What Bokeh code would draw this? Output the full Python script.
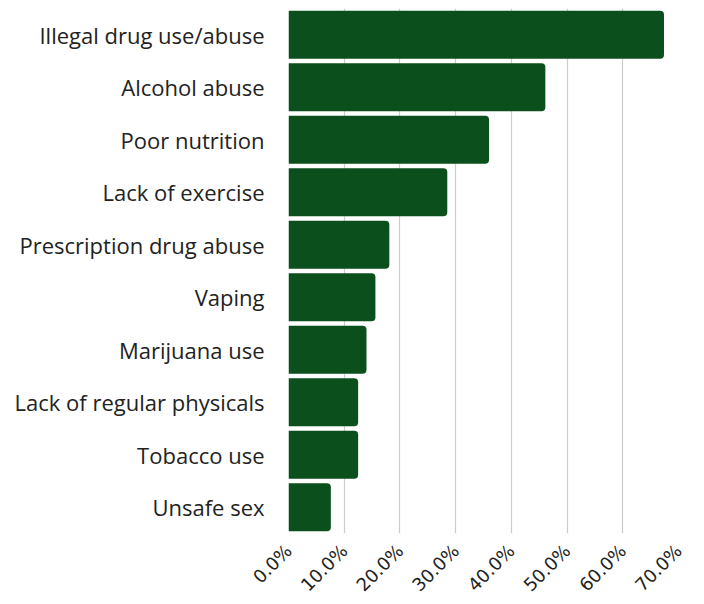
from bokeh.plotting import figure
from bokeh.models import ColumnDataSource, NumeralTickFormatter, FixedTicker
from bokeh.embed import file_html
from bokeh.resources import INLINE
import math

categories = ["Illegal drug use/abuse", "Alcohol abuse", "Poor nutrition", "Lack of exercise",
              "Prescription drug abuse", "Vaping", "Marijuana use", "Lack of regular physicals",
              "Tobacco use", "Unsafe sex"]
values = [0.674, 0.461, 0.360, 0.285, 0.181, 0.156, 0.140, 0.125, 0.125, 0.076]
ticks = [0.0, 0.1, 0.2, 0.3, 0.4, 0.5, 0.6, 0.7]

src = ColumnDataSource(dict(cat=categories, val=values))

p = figure(frame_width=390, frame_height=525, y_range=list(reversed(categories)), x_range=(0, 0.7),
           output_backend="svg", toolbar_location=None,
           min_border_left=288, min_border_right=26, min_border_top=8, min_border_bottom=60)
p.hbar(y="cat", right="val", left=0, height=0.91, source=src,
       fill_color="#0b4f1c", line_color=None, border_radius=(0, 4, 4, 0))

p.outline_line_color = None
p.ygrid.grid_line_color = None
p.xgrid.grid_line_color = "#cccccc"
p.xgrid.grid_line_width = 1.2

p.xaxis.ticker = FixedTicker(ticks=ticks)
p.xaxis.formatter = NumeralTickFormatter(format="0.0%")
p.xaxis.major_label_orientation = math.pi / 4
p.xaxis.axis_line_color = None
p.xaxis.major_tick_line_color = None
p.xaxis.minor_tick_line_color = None
p.xaxis.major_label_text_font = "DejaVu Sans"
p.xaxis.major_label_text_font_size = "18px"
p.xaxis.major_label_text_color = "#222222"
p.xaxis.major_label_standoff = 8

p.yaxis.axis_line_color = None
p.yaxis.major_tick_line_color = None
p.yaxis.minor_tick_line_color = None
p.yaxis.major_label_text_font = "Open Sans"
p.yaxis.major_label_text_font_size = "22px"
p.yaxis.major_label_text_color = "#222222"
p.yaxis.major_label_standoff = 18

open("out.html", "w").write(file_html(p, INLINE))
